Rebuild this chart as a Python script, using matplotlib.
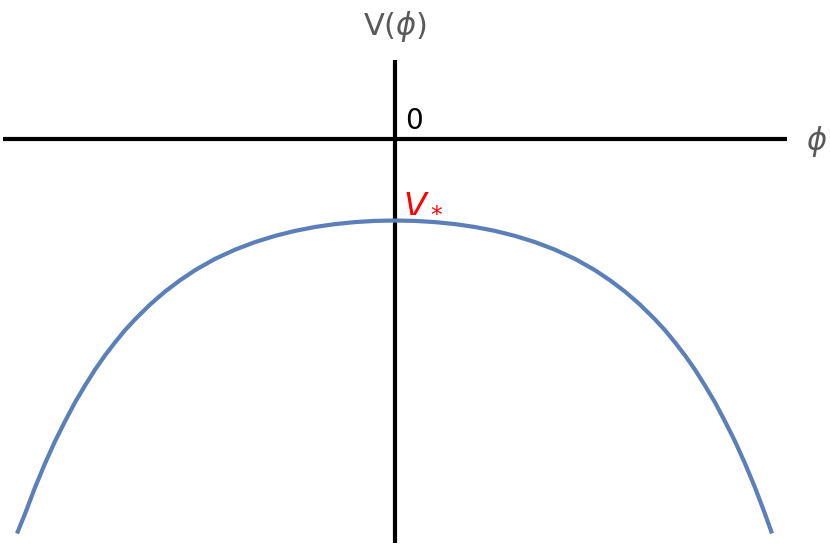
import matplotlib
matplotlib.use("Agg")
import matplotlib.pyplot as plt

# curve (phi, V), origin at the axis crossing
phi = [-3.78, -3.70, -3.60, -3.50, -3.40, -3.30, -3.20, -3.10, -3.00, -2.90,
       -2.80, -2.70, -2.60, -2.45, -2.30, -2.15, -2.00, -1.80, -1.60, -1.40,
       -1.20, -1.00, -0.80, -0.60, -0.40, -0.20, 0.00,
       0.20, 0.40, 0.60, 0.80, 1.00, 1.20, 1.40, 1.60, 1.80, 2.00,
       2.15, 2.30, 2.45, 2.60, 2.70, 2.80, 2.90, 3.00, 3.10, 3.20,
       3.30, 3.40, 3.50, 3.60, 3.70, 3.77]
V = [-3.945, -3.749, -3.485, -3.245, -3.023, -2.824, -2.634, -2.466, -2.307, -2.164,
     -2.034, -1.912, -1.804, -1.656, -1.526, -1.413, -1.312, -1.199, -1.107, -1.031,
     -0.969, -0.919, -0.880, -0.851, -0.831, -0.819, -0.815,
     -0.819, -0.831, -0.851, -0.880, -0.919, -0.969, -1.031, -1.107, -1.199, -1.312,
     -1.413, -1.526, -1.656, -1.804, -1.912, -2.034, -2.164, -2.307, -2.466, -2.634,
     -2.824, -3.023, -3.245, -3.485, -3.749, -3.945]

# axis extents
x_axis = [-3.92, 3.92]
y_axis = [0.79, -4.04]

fig = plt.figure(figsize=(8.3, 5.48), dpi=100)
ax = fig.add_axes([0, 0, 1, 1])
ax.set_xlim(-3.95, 4.35)
ax.set_ylim(-4.09, 1.39)
ax.axis("off")

# axes drawn as plain lines
ax.plot(x_axis, [0, 0], color="black", lw=3, solid_capstyle="butt")
ax.plot([0, 0], y_axis, color="black", lw=3, solid_capstyle="butt")

# potential
ax.plot(phi, V, color="#5b7fb8", lw=3, solid_capstyle="butt", solid_joinstyle="round")

grey = "#595959"
ax.text(0, 1.13, r"V($\phi$)", color=grey, fontsize=22, ha="center", va="center")
ax.text(4.22, -0.03, r"$\phi$", color=grey, fontsize=22, ha="center", va="center")
ax.text(0.1, 0.18, "0", color="black", fontsize=20, ha="left", va="center")
ax.text(0.08, -0.64, r"$V_*$", color="red", fontsize=24, ha="left", va="center")

fig.savefig("out.png", dpi=100)
